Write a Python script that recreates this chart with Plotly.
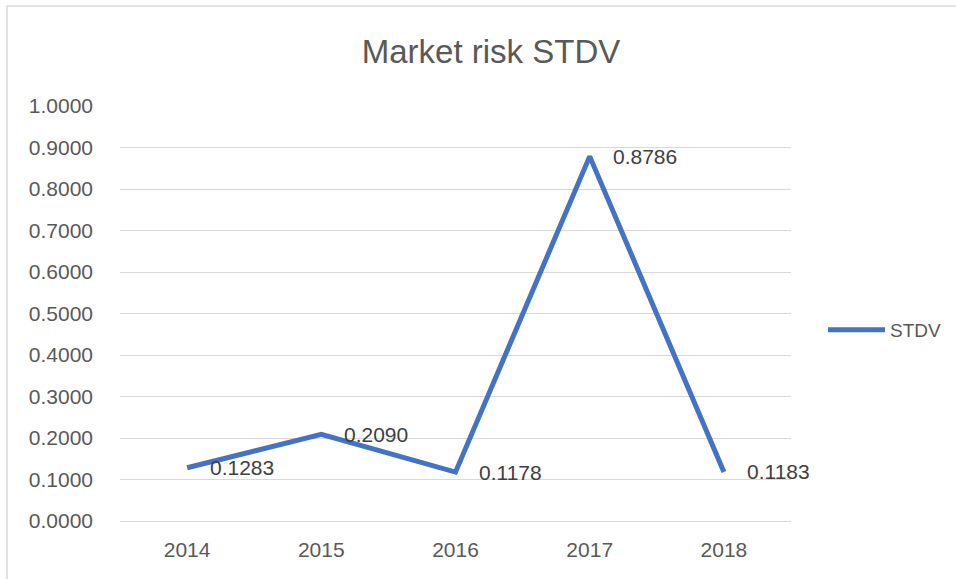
import plotly.graph_objects as go

years = ["2014", "2015", "2016", "2017", "2018"]
stdv = [0.1283, 0.2090, 0.1178, 0.8786, 0.1183]
y_ticks = [0.0, 0.1, 0.2, 0.3, 0.4, 0.5, 0.6, 0.7, 0.8, 0.9, 1.0]
series_name = "STDV"
title_text = "Market risk STDV"

W, H = 956, 579
L, R, T, B = 120, 165, 106, 58
pw, ph = W - L - R, H - T - B

def px_x(p):
    return (p - L) / pw

def px_y(p):
    return (H - B - p) / ph

FONT = "Liberation Sans, Arial, sans-serif"
BLUE = "#4472C4"
GRID = "#D9D9D9"

fig = go.Figure()
fig.add_trace(go.Scatter(
    x=years, y=stdv, mode="lines", name=series_name,
    line=dict(color=BLUE, width=5),
    hoverinfo="x+y",
))

for i, yv in enumerate(stdv):
    fig.add_annotation(
        x=i, y=yv, xref="x", yref="y",
        text=f"{yv:.4f}", showarrow=False,
        xanchor="left", yanchor="middle", xshift=21,
        font=dict(family=FONT, size=21, color="#404040"),
    )

# chart border (left and top edges visible in the frame)
fig.add_shape(type="line", xref="paper", yref="paper",
              x0=px_x(7), x1=px_x(7), y0=px_y(6), y1=px_y(600),
              line=dict(color=GRID, width=1.5), layer="below")
fig.add_shape(type="line", xref="paper", yref="paper",
              x0=px_x(7), x1=px_x(980), y0=px_y(6), y1=px_y(6),
              line=dict(color=GRID, width=1.5), layer="below")

fig.update_layout(
    width=W, height=H,
    margin=dict(l=L, r=R, t=T, b=B, autoexpand=False),
    paper_bgcolor="white", plot_bgcolor="white",
    title=dict(text=title_text, x=px_x(491), xref="paper", xanchor="center",
               y=1 - 51 / H, yref="container", yanchor="middle",
               font=dict(family=FONT, size=33, color="#595959")),
    showlegend=True,
    legend=dict(x=823 / W, y=1 - 330 / H, xanchor="left", yanchor="middle",
                xref="container", yref="container", itemwidth=57,
                font=dict(family=FONT, size=19, color="#595959"),
                bgcolor="rgba(0,0,0,0)"),
    xaxis=dict(type="category", range=[-0.5, len(years) - 0.5],
               showgrid=False, showline=True, linecolor=GRID, linewidth=1,
               ticks="", ticklabelstandoff=10,
               tickfont=dict(family=FONT, size=21, color="#595959"),
               fixedrange=True),
    yaxis=dict(range=[0, 1], tickvals=y_ticks, tickformat=".4f",
               showgrid=True, gridcolor=GRID, gridwidth=1,
               zeroline=False, showline=False, ticks="",
               ticklabelstandoff=26,
               tickfont=dict(family=FONT, size=21, color="#595959"),
               fixedrange=True),
)

fig.write_html("out.html", config={"displayModeBar": False},
               post_script="document.body.style.margin='0';document.body.style.overflow='hidden';")
